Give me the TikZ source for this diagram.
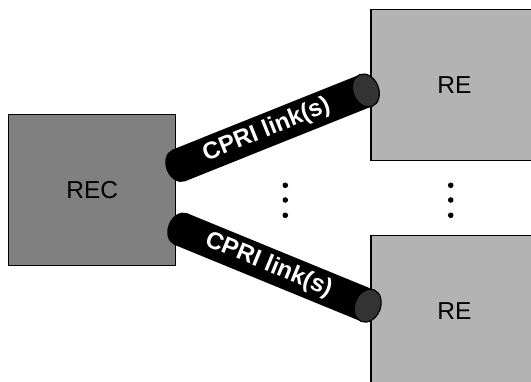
\documentclass[tikz,border=0pt]{standalone}
\usepackage{fontspec}
\setmainfont{Liberation Sans}
\usepackage{tikz}
\usetikzlibrary{positioning,shapes.geometric}
\definecolor{recgray}{HTML}{808080}
\definecolor{regray}{HTML}{B3B3B3}
\definecolor{capgray}{HTML}{333333}
\tikzset{
    unitbox/.style = {rectangle, minimum width=167pt, minimum height=151pt, inner sep=0pt, draw=black, line width=1.2pt, text centered, font=\fontsize{24.5}{29}\selectfont},
    recbox/.style = {unitbox, fill=recgray},
    rebox/.style = {unitbox, fill=regray},
    tube/.style = {line width=34pt, black},
    tubetext/.style = {sloped, pos=0.47, text=white, inner sep=0pt, font=\fontsize{24}{29}\selectfont\bfseries},
    capleft/.style = {ellipse, sloped, minimum width=25.6pt, minimum height=34pt, inner sep=0pt, fill=black},
    capright/.style = {ellipse, sloped, minimum width=25.6pt, minimum height=34pt, inner sep=0pt, fill=capgray, draw=black, line width=1.2pt}
}
\begin{document}
\begin{tikzpicture}[x=1pt,y=1pt]
\useasboundingbox (0,0) rectangle (531,381);
\clip (0,0) rectangle (531,381);
\node (rec) [recbox] at (92.3,191.3) {REC};
\node (re1) [rebox] at (454.5,296.3) {RE};
\node (re2) [rebox, below=74pt of re1] {RE};

\coordinate (link1a) at ([shift={(2.3,24.2)}]rec.east);
\coordinate (link1b) at ([shift={(-4.5,-5.8)}]re1.west);
\coordinate (link2a) at ([shift={(4.3,-39.3)}]rec.east);
\coordinate (link2b) at ([shift={(-2.7,5.2)}]re2.west);

\draw [tube] (link1a) -- node[tubetext] {CPRI link(s)} (link1b) node[capleft, pos=0] {} node[capright, pos=1] {};
\draw [tube] (link2a) -- node[tubetext] {CPRI link(s)} (link2b) node[capleft, pos=0] {} node[capright, pos=1] {};

\foreach \x in {285.3,450.7}
  \foreach \y in {195.7,181,165.7}
    \fill (\x,\y) circle (2.8);
\end{tikzpicture}
\end{document}
